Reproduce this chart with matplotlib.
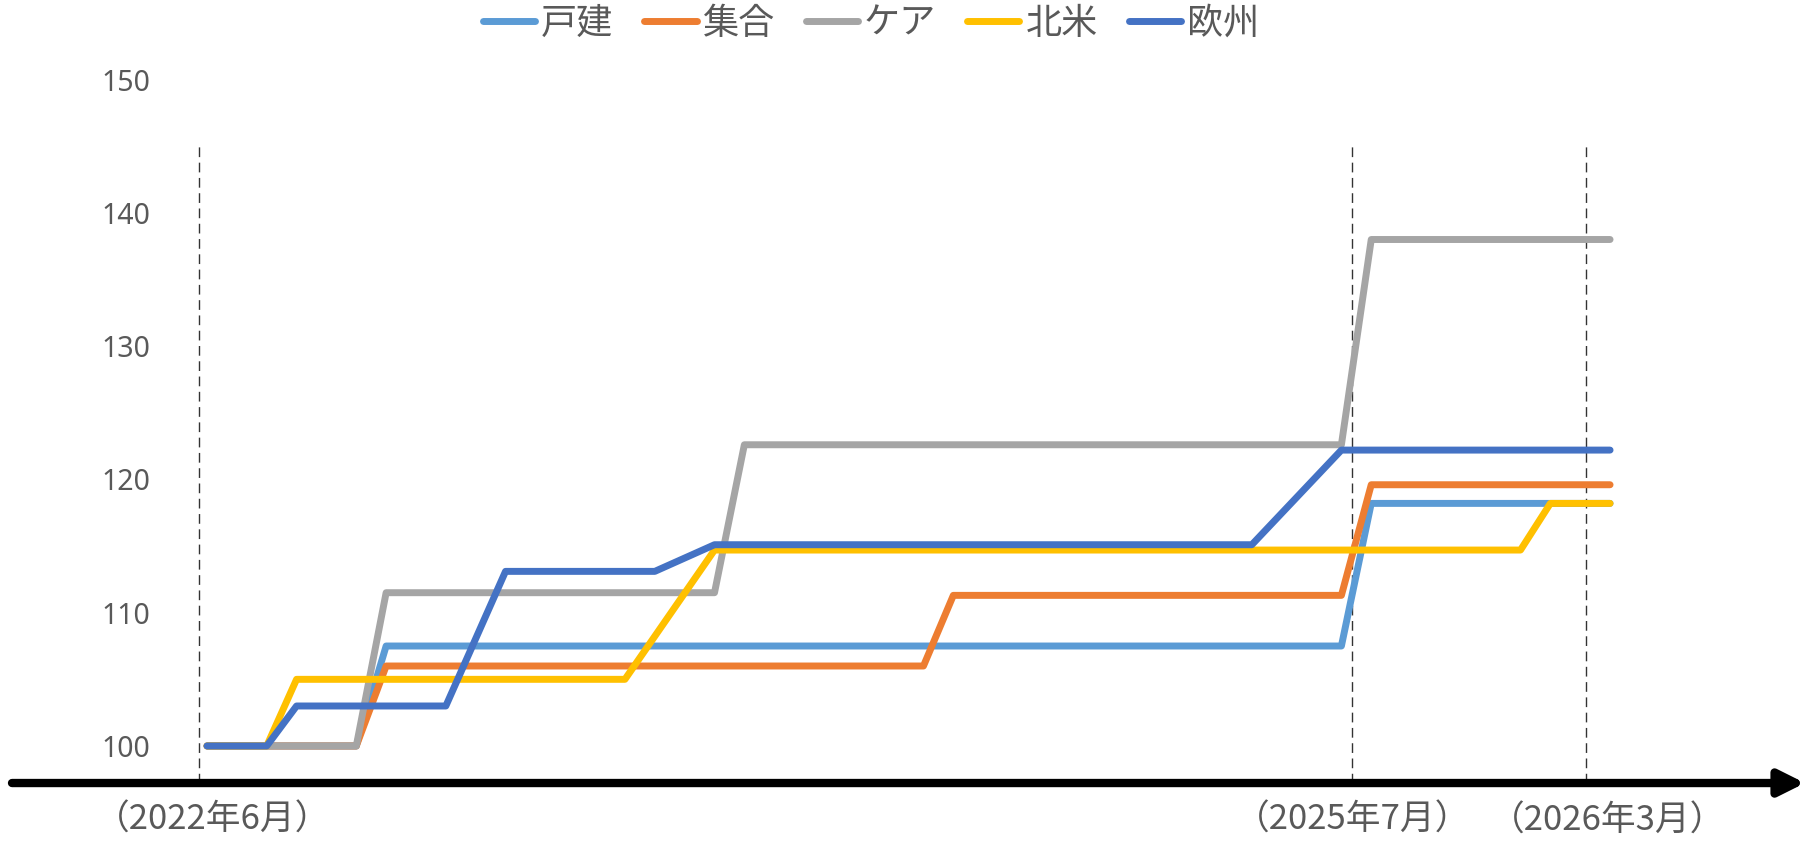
import matplotlib.pyplot as plt

JP_FONT = ['Noto Sans CJK JP', 'DejaVu Sans']
TEXT_COLOR = '#595959'

# month index from the start (2022年6月 = 0) and index value at each turn
series_names = ['戸建', '集合', 'ケア', '北米', '欧州']
series_colors = ['#5B9BD5', '#ED7D31', '#A5A5A5', '#FFC000', '#4472C4']

detached_x = [0, 5, 6, 38, 39, 47]
detached_y = [100, 100, 107.5, 107.5, 118.2, 118.2]

apartment_x = [0, 5, 6, 24, 25, 38, 39, 47]
apartment_y = [100, 100, 106.0, 106.0, 111.3, 111.3, 119.6, 119.6]

care_x = [0, 5, 6, 17, 18, 38, 39, 47]
care_y = [100, 100, 111.5, 111.5, 122.6, 122.6, 138.0, 138.0]

namerica_x = [0, 2, 3, 14, 17, 44, 45, 47]
namerica_y = [100, 100, 105.0, 105.0, 114.7, 114.7, 118.2, 118.2]

europe_x = [0, 2, 3, 8, 10, 15, 17, 35, 38, 47]
europe_y = [100, 100, 103.0, 103.0, 113.1, 113.1, 115.1, 115.1, 122.2, 122.2]

y_ticks = [100, 110, 120, 130, 140, 150]

period_labels = ['（2022年6月）', '（2025年7月）', '（2026年3月）']
period_label_x = [0.2, 38.38, 46.9]
marker_x = [-0.27, 38.35, 46.2]

ARROW_Y = 97.22
MARKER_TOP = 145.3


def drawSeries(ax):
    xs = [detached_x, apartment_x, care_x, namerica_x, europe_x]
    ys = [detached_y, apartment_y, care_y, namerica_y, europe_y]
    for i in range(len(series_names)):
        ax.plot(xs[i], ys[i], color=series_colors[i], linewidth=5.0,
                solid_capstyle='round', solid_joinstyle='round',
                label=series_names[i], zorder=3 + i)


def drawTimeAxis(ax):
    # dashed markers for the reference months
    ax.vlines(marker_x, ARROW_Y, MARKER_TOP, colors='#333333', linewidth=1.0,
              linestyles=(0, (7, 4)), zorder=2)
    # long black arrow used as the time axis
    ax.annotate('', xy=(1.0, ARROW_Y), xycoords=('figure fraction', 'data'),
                xytext=(12 / 1805, ARROW_Y), textcoords=('figure fraction', 'data'),
                arrowprops=dict(arrowstyle='-|>', color='black', lw=6.0,
                                mutation_scale=38, shrinkA=0, shrinkB=0),
                annotation_clip=False, zorder=10)
    label_y = [94.45, 94.4, 94.35]
    for i in range(len(period_labels)):
        ax.text(period_label_x[i], label_y[i], period_labels[i], ha='center', va='center',
                fontsize=25, color=TEXT_COLOR, family=JP_FONT)


fig = plt.figure(figsize=(18.05, 8.41), dpi=100)
ax = fig.add_axes([170 / 1805, 0, 1 - 170 / 1805, 1])
ax.set_xlim(-1.24, 53.53)
ax.set_ylim(92.87, 155.97)

drawSeries(ax)
drawTimeAxis(ax)

ax.set_yticks(y_ticks)
ax.set_yticklabels([str(t) for t in y_ticks], fontsize=20.5, color=TEXT_COLOR, family='Noto Sans')
ax.tick_params(axis='y', length=0, pad=14)
ax.set_xticks([])
for side in ['top', 'right', 'bottom', 'left']:
    ax.spines[side].set_visible(False)

fig.legend(loc='center', bbox_to_anchor=(871 / 1805, 1 - 24 / 841), ncol=5, frameon=False,
           prop={'family': JP_FONT, 'size': 26}, labelcolor=TEXT_COLOR,
           handlelength=1.45, handletextpad=0.17, columnspacing=0.85)

fig.savefig('out.png', dpi=100)
